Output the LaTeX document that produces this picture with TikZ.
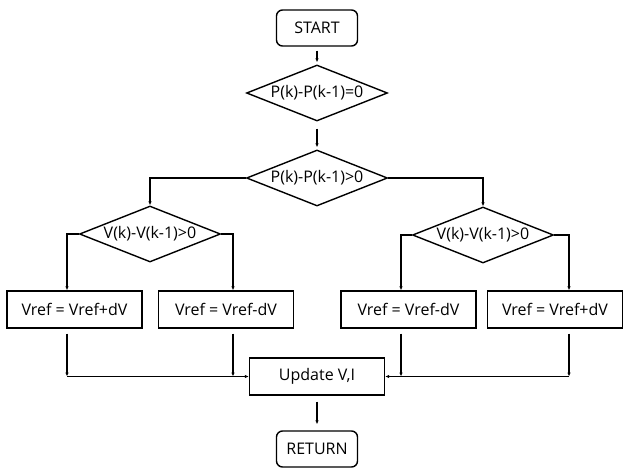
\documentclass[tikz,border=0pt]{standalone}
\usepackage{fontspec}
\setmainfont{Open Sans}
\usetikzlibrary{arrows.meta,positioning,shapes.geometric}
\tikzset{
	>=Latex,
	terminal/.style={
		draw,
		rounded corners=6pt,
		line width=1.4pt,
		minimum width=81pt,
		minimum height=36pt,
		inner sep=0pt
	},
	decision/.style={
		diamond,
		draw,
		line width=1.4pt,
		aspect=2.5,
		minimum width=141pt,
		minimum height=56pt,
		inner sep=0pt
	},
	process/.style={
		draw,
		line width=1.4pt,
		minimum width=135pt,
		minimum height=37pt,
		inner sep=0pt
	},
	conn/.style={
		-{Latex[length=4pt,width=3.5pt]},
		line width=1.3pt
	}
}

\begin{document}
\begin{tikzpicture}[x=1pt,y=-1pt,font=\fontsize{16}{19}\selectfont]
	\useasboundingbox (0,0) rectangle (623,468);
	
	% --- TOP: START AND FIRST TESTS ---
	\node[terminal] (start) at (317,28) {START};
	\node[decision] (d1) at (317,93) {P(k)-P(k-1)=0};
	\node[decision] (d2) at (317,178) {P(k)-P(k-1)>0};
	
	% --- SECOND TESTS ---
	\node[decision] (dL) at (150,234) {V(k)-V(k-1)>0};
	\node[decision] (dR) at (483,235) {V(k)-V(k-1)>0};
	
	% --- REFERENCE STEPS ---
	\node[process] (b1) at (74.5,309.5) {Vref = Vref+dV};
	\node[process] (b2) at (226,309.5) {Vref = Vref-dV};
	\node[process] (b3) at (408.5,309.5) {Vref = Vref-dV};
	\node[process] (b4) at (555,309.5) {Vref = Vref+dV};
	
	% --- UPDATE AND RETURN ---
	\node[process] (upd) at (317,376.5) {Update V,I};
	\node[terminal] (ret) at (317,449) {RETURN};
	
	% junctions on the collecting line
	\coordinate (jL1) at (67,376.5);
	\coordinate (jL2) at (233,376.5);
	\coordinate (jR1) at (401,376.5);
	\coordinate (jR2) at (569,376.5);
	
	% --- CONNECTIONS ---
	\draw[conn,shorten <=4pt,shorten >=2pt] (start) -- (d1);
	\draw[conn,shorten <=7pt,shorten >=2pt] (d1) -- (d2);
	\draw[conn] (d2.west) -| (dL.north);
	\draw[conn] (d2.east) -| (dR.north);
	
	\draw[conn] (dL.west) -| (b1.north -| jL1);
	\draw[conn] (dL.east) -| (b2.north -| jL2);
	\draw[conn] (dR.west) -| (b3.north -| jR1);
	\draw[conn] (dR.east) -| (b4.north -| jR2);
	
	\draw[conn,shorten <=5pt] (b1.south -| jL1) -- (jL1);
	\draw[conn,shorten <=5pt] (b2.south -| jL2) -- (jL2);
	\draw[conn,shorten <=5pt] (b3.south -| jR1) -- (jR1);
	\draw[conn,shorten <=5pt] (b4.south -| jR2) -- (jR2);
	
	\draw[conn] (jL1) -- (upd.west);
	\draw[conn] (jR2) -- (upd.east);
	
	\draw[conn,shorten <=6pt,shorten >=6pt] (upd) -- (ret);
	
\end{tikzpicture}
\end{document}
